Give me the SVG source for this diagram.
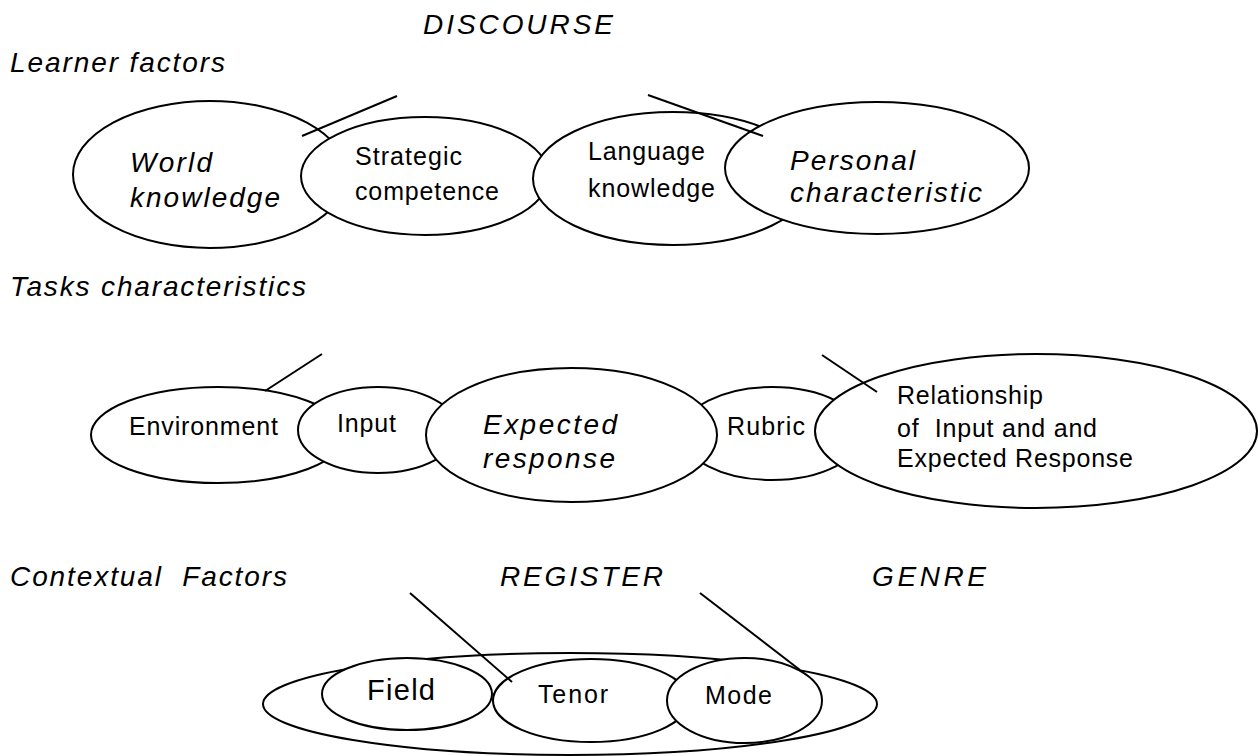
<svg xmlns="http://www.w3.org/2000/svg" width="1258" height="756" viewBox="0 0 1258 756">
<style>
.e{fill:#fff;stroke:#000;stroke-width:2}
.l{stroke:#000;stroke-width:2;fill:none}
text{font-family:"Liberation Sans",Arial,sans-serif;fill:#000}
.h{font-size:28px;font-style:italic}
.n{font-size:25px}
.b{font-size:28px;font-style:italic}
</style>
<rect width="1258" height="756" fill="#fff"/>
<g id="titles">
<text class="h" x="423" y="34" textLength="190" lengthAdjust="spacing">DISCOURSE</text>
<text class="h" x="10" y="72" textLength="215" lengthAdjust="spacing">Learner factors</text>
<text class="h" x="10" y="296" textLength="296" lengthAdjust="spacing">Tasks characteristics</text>
<text class="h" x="10" y="586" textLength="277" lengthAdjust="spacing" xml:space="preserve">Contextual  Factors</text>
<text class="h" x="500" y="586" textLength="163" lengthAdjust="spacing">REGISTER</text>
<text class="h" x="872" y="586" textLength="114" lengthAdjust="spacing">GENRE</text>
</g>
<g id="world"><ellipse class="e" cx="210" cy="174.5" rx="137" ry="73.5"/>
<text class="b" x="130" y="172" textLength="82" lengthAdjust="spacing">World</text><text class="b" x="130" y="207" textLength="150" lengthAdjust="spacing">knowledge</text></g>
<g id="strategic"><ellipse class="e" cx="425" cy="176" rx="124" ry="59"/>
<text class="n" x="355" y="165" textLength="107" lengthAdjust="spacing">Strategic</text><text class="n" x="355" y="200" textLength="144" lengthAdjust="spacing">competence</text></g>
<g id="language"><ellipse class="e" cx="673" cy="178.5" rx="140" ry="66.5"/>
<text class="n" x="588" y="160" textLength="117" lengthAdjust="spacing">Language</text><text class="n" x="588" y="197" textLength="127" lengthAdjust="spacing">knowledge</text></g>
<g id="personal"><ellipse class="e" cx="877" cy="168" rx="152" ry="66"/>
<text class="b" x="790" y="170" textLength="125" lengthAdjust="spacing">Personal</text><text class="b" x="790" y="202" textLength="192" lengthAdjust="spacing">characteristic</text></g>
<g id="environment"><ellipse class="e" cx="218" cy="435" rx="127" ry="48"/>
<text class="n" x="129" y="435" textLength="149" lengthAdjust="spacing">Environment</text></g>
<g id="input"><ellipse class="e" cx="378" cy="430" rx="80" ry="43"/>
<text class="n" x="337" y="432" textLength="59" lengthAdjust="spacing">Input</text></g>
<g id="rubric"><ellipse class="e" cx="772" cy="433.5" rx="90" ry="46.5"/>
<text class="n" x="727" y="435" textLength="78" lengthAdjust="spacing">Rubric</text></g>
<g id="expected"><ellipse class="e" cx="571.5" cy="435" rx="145.5" ry="67"/>
<text class="b" x="483" y="434" textLength="134" lengthAdjust="spacing">Expected</text><text class="b" x="483" y="468" textLength="132" lengthAdjust="spacing">response</text></g>
<g id="relationship"><ellipse class="e" cx="1036" cy="431" rx="221" ry="77"/>
<text class="n" x="897" y="404" textLength="146" lengthAdjust="spacing">Relationship</text><text class="n" x="897" y="437" textLength="200" lengthAdjust="spacing" xml:space="preserve">of  Input and and</text><text class="n" x="897" y="467" textLength="236" lengthAdjust="spacing">Expected Response</text></g>
<g id="genre"><ellipse class="e" cx="570" cy="704" rx="307" ry="51"/></g>
<g id="field"><ellipse class="e" cx="407" cy="694" rx="85" ry="36"/>
<text x="367" y="700" style="font-size:29px" textLength="68" lengthAdjust="spacing">Field</text></g>
<g id="tenor"><ellipse class="e" cx="591" cy="700.5" rx="98" ry="41.5"/>
<text class="n" x="538" y="703" textLength="70" lengthAdjust="spacing">Tenor</text></g>
<g id="mode"><ellipse class="e" cx="744.5" cy="700.5" rx="77.5" ry="42.5"/>
<text class="n" x="705" y="704" textLength="67" lengthAdjust="spacing">Mode</text></g>
<g id="connectors">
<line class="l" x1="302" y1="136" x2="397" y2="96"/>
<line class="l" x1="648" y1="95" x2="763" y2="136"/>
<line class="l" x1="265" y1="391" x2="322" y2="354"/>
<line class="l" x1="822" y1="355" x2="877" y2="392"/>
<line class="l" x1="410" y1="593" x2="512" y2="682"/>
<line class="l" x1="700" y1="593" x2="800" y2="670"/>
</g>
</svg>
